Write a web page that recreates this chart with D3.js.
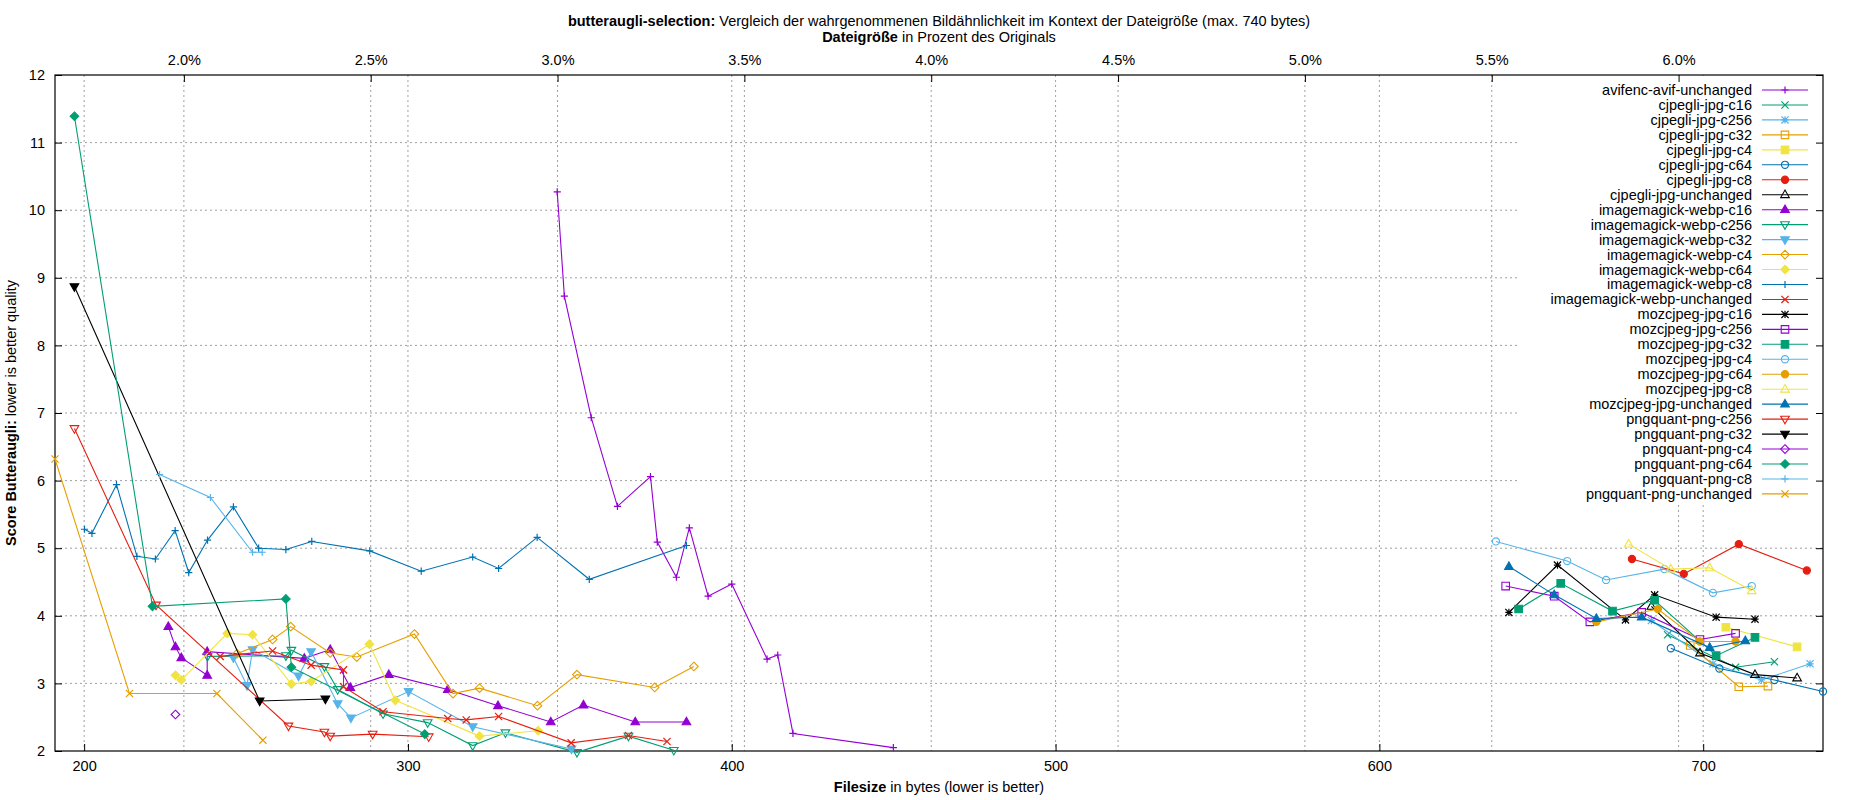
<!DOCTYPE html>
<html><head><meta charset="utf-8">
<script src="https://cdn.jsdelivr.net/npm/d3@7"></script>
<style>body{margin:0;background:#fff}text{font-family:"Liberation Sans",Arial,sans-serif}</style>
</head><body><svg id="c" width="1850" height="800"></svg>
<script>
const originalSize = 11540;
const xTicks = [200,300,400,500,600,700];
const yTicks = [2,3,4,5,6,7,8,9,10,11,12];
const pctTicks = [2.0,2.5,3.0,3.5,4.0,4.5,5.0,5.5,6.0];
const seriesNames = ["avifenc-avif-unchanged","cjpegli-jpg-c16","cjpegli-jpg-c256","cjpegli-jpg-c32","cjpegli-jpg-c4","cjpegli-jpg-c64","cjpegli-jpg-c8","cjpegli-jpg-unchanged","imagemagick-webp-c16","imagemagick-webp-c256","imagemagick-webp-c32","imagemagick-webp-c4","imagemagick-webp-c64","imagemagick-webp-c8","imagemagick-webp-unchanged","mozcjpeg-jpg-c16","mozcjpeg-jpg-c256","mozcjpeg-jpg-c32","mozcjpeg-jpg-c4","mozcjpeg-jpg-c64","mozcjpeg-jpg-c8","mozcjpeg-jpg-unchanged","pngquant-png-c256","pngquant-png-c32","pngquant-png-c4","pngquant-png-c64","pngquant-png-c8","pngquant-png-unchanged"];
const seriesColors = ["#9400d3","#009e73","#56b4e9","#e69f00","#f0e442","#0072b2","#e51e10","#000000"];
const seriesSymbols = ["plus","cross","star","square","fsquare","circle","fcircle","tri","ftri","itri","fitri","diamond","fdiamond"];
const s01 = [[346.1,10.27],[348.3,8.73],[356.6,6.93],[364.7,5.62],[374.9,6.06],[377,5.09],[382.9,4.57],[386.9,5.3],[392.7,4.29],[400,4.47],[410.9,3.36],[414.2,3.42],[418.9,2.26],[449.9,2.05]];
const s02 = [[689,3.72],[710,3.24],[722,3.32]];
const s03 = [[684,3.93],[703,3.29],[718,3.05],[733,3.29]];
const s04 = [[696,3.56],[711,2.95],[720,2.96]];
const s05 = [[707,3.83],[729,3.54]];
const s06 = [[690,3.52],[705,3.22],[722,3.05],[737,2.88]];
const s07 = [[678,4.84],[694,4.62],[711,5.06],[732,4.67]];
const s08 = [[684,4.14],[699,3.45],[716,3.13],[729,3.08]];
const s09 = [[226,3.84],[228.2,3.54],[230,3.38],[238,3.12],[238,3.47],[268,3.37],[276,3.5],[282.2,2.94],[294.1,3.13],[312.3,2.91],[327.8,2.67],[344.1,2.43],[354.2,2.68],[370.2,2.43],[386,2.43]];
const s10 = [[238.1,3.4],[262.3,3.41],[264,3.49],[274.2,3.25],[278.3,2.91],[292.3,2.55],[306.1,2.42],[320,2.08],[330.1,2.27],[352.2,1.98],[368.1,2.22],[382.1,2.01]];
const s11 = [[246.1,3.38],[250.3,2.97],[252,3.5],[266.2,3.11],[270.1,3.47],[278.3,2.7],[282.4,2.49],[300.2,2.88],[320,2.36],[350.5,2.03]];
const s12 = [[247.2,3.44],[258.2,3.65],[263.8,3.84],[276,3.45],[284.2,3.39],[302,3.73],[313.9,2.85],[322.1,2.93],[340,2.67],[352.2,3.13],[376.2,2.94],[388.3,3.25]];
const s13 = [[228.2,3.12],[230,3.05],[244.2,3.74],[252,3.72],[264,2.99],[270.1,3.03],[288.1,3.58],[296.1,2.75],[322.1,2.22],[340.2,2.3]];
const s14 = [[200.1,5.28],[202.4,5.22],[210,5.94],[216.3,4.88],[222,4.84],[228.1,5.26],[232.3,4.64],[238.1,5.12],[246.1,5.61],[253.9,5.0],[262.3,4.98],[270.3,5.1],[288.2,4.96],[304.1,4.66],[320,4.87],[328,4.7],[339.9,5.16],[356,4.54],[386,5.04]];
const s15 = [[242,3.4],[258.2,3.48],[270.1,3.27],[280.1,3.2],[280.1,2.95],[292.3,2.58],[312.3,2.48],[318,2.46],[328,2.51],[350.4,2.12],[368.1,2.23],[380,2.14]];
const s16 = [[640,4.05],[655,4.75],[676,3.94],[685,4.31],[704,3.98],[716,3.95]];
const s17 = [[639,4.44],[654,4.29],[665,3.91],[681,4.05],[699,3.65],[710,3.74]];
const s18 = [[643,4.1],[656,4.48],[672,4.07],[685,4.23],[704,3.41],[716,3.68]];
const s19 = [[636,5.1],[658,4.81],[670,4.53],[688,4.69],[703,4.34],[715,4.44]];
const s20 = [[667,3.91],[686,4.1],[699,3.62],[710,3.62]];
const s21 = [[677,5.06],[690,4.69],[702,4.71],[715,4.37]];
const s22 = [[640,4.73],[654,4.31],[667,3.96],[681,3.98],[702,3.53],[713,3.63]];
const s23 = [[197,6.77],[222.2,4.16],[263.1,2.37],[274.2,2.28],[276,2.22],[289.1,2.25],[306.4,2.21]];
const s24 = [[197,8.87],[254.2,2.74],[274.5,2.77]];
const s25 = [[228.2,2.54]];
const s26 = [[197,11.39],[221.1,4.14],[262.3,4.25],[264,3.24],[305.2,2.25]];
const s27 = [[223.3,6.09],[239,5.75],[252,4.94],[255,4.94]];
const s28 = [[191,6.32],[214,2.85],[241,2.85],[255.2,2.16]];
const allSeries = [s01,s02,s03,s04,s05,s06,s07,s08,s09,s10,s11,s12,s13,s14,s15,s16,s17,s18,s19,s20,s21,s22,s23,s24,s25,s26,s27,s28];

const svg = d3.select("#c");
const L=55,R=1823,T=75,B=751;
const x = d3.scaleLinear().domain([191,737]).range([L,R]);
const y = d3.scaleLinear().domain([2,12]).range([B,T]);
const xp = d3.scaleLinear().domain([191/originalSize*100,737/originalSize*100]).range([L,R]);

const grid = svg.append("g").attr("stroke","#a0a0a0").attr("stroke-dasharray","2,3").attr("stroke-width",1);
yTicks.slice(1,-1).forEach(v=>grid.append("line").attr("x1",L).attr("x2",R).attr("y1",y(v)).attr("y2",y(v)));
xTicks.forEach(v=>grid.append("line").attr("x1",x(v)).attr("x2",x(v)).attr("y1",T).attr("y2",B));
pctTicks.forEach(v=>grid.append("line").attr("x1",xp(v)).attr("x2",xp(v)).attr("y1",T).attr("y2",B));

const legTop=90, legStep=14.96;
svg.append("rect").attr("x",1517).attr("y",T+1).attr("width",R-1518).attr("height",legTop+legStep*27+8-T).attr("fill","#fff");

const fs = "14.5px";
const ax = svg.append("g");
ax.append("g").attr("transform",`translate(0,${B})`).call(d3.axisBottom(x).tickValues(xTicks).tickSize(-7).tickPadding(10).tickFormat(d3.format("d")));
ax.append("g").attr("transform",`translate(0,${T})`).call(d3.axisTop(xp).tickValues(pctTicks).tickSize(-7).tickPadding(10).tickFormat(d=>d3.format(".1f")(d)+"%"));
ax.append("g").attr("transform",`translate(${L},0)`).call(d3.axisLeft(y).tickValues(yTicks).tickSize(-7).tickPadding(10).tickFormat(d3.format("d")));
ax.append("g").attr("transform",`translate(${R},0)`).call(d3.axisRight(y).tickValues(yTicks).tickSize(-7).tickFormat(""));
ax.selectAll(".domain").remove();
ax.selectAll("text").attr("font-size",fs).attr("fill","#000").attr("font-family","Liberation Sans, Arial");
svg.append("rect").attr("x",L).attr("y",T).attr("width",R-L).attr("height",B-T).attr("fill","none").attr("stroke","#000").attr("stroke-width",1.2);

function sym(g,type,cx,cy,col){
  const r=3.6;
  if(type==="plus"){g.append("path").attr("d",`M${cx-r},${cy}H${cx+r}M${cx},${cy-r}V${cy+r}`).attr("stroke",col).attr("stroke-width",1.2);}
  else if(type==="cross"){g.append("path").attr("d",`M${cx-r},${cy-r}L${cx+r},${cy+r}M${cx-r},${cy+r}L${cx+r},${cy-r}`).attr("stroke",col).attr("stroke-width",1.2);}
  else if(type==="star"){g.append("path").attr("d",`M${cx-r},${cy}H${cx+r}M${cx},${cy-r}V${cy+r}M${cx-r},${cy-r}L${cx+r},${cy+r}M${cx-r},${cy+r}L${cx+r},${cy-r}`).attr("stroke",col).attr("stroke-width",1.2);}
  else {
    const fill=type[0]==="f"; const t=fill?type.slice(1):type; let d;
    const s=r*1.05;
    if(t==="square") d=`M${cx-s},${cy-s}H${cx+s}V${cy+s}H${cx-s}Z`;
    else if(t==="circle") d=`M${cx-r},${cy}A${r},${r} 0 1 0 ${cx+r},${cy}A${r},${r} 0 1 0 ${cx-r},${cy}Z`;
    else if(t==="tri") d=`M${cx},${cy-r*1.3}L${cx+r*1.2},${cy+r*0.8}L${cx-r*1.2},${cy+r*0.8}Z`;
    else if(t==="itri") d=`M${cx},${cy+r*1.3}L${cx+r*1.2},${cy-r*0.8}L${cx-r*1.2},${cy-r*0.8}Z`;
    else if(t==="diamond") d=`M${cx},${cy-r*1.2}L${cx+r*1.2},${cy}L${cx},${cy+r*1.2}L${cx-r*1.2},${cy}Z`;
    g.append("path").attr("d",d).attr("fill",fill?col:"none").attr("stroke",col).attr("stroke-width",1.1);
  }
}
const line = d3.line().x(d=>x(d[0])).y(d=>y(d[1]));
const plot = svg.append("g");
allSeries.forEach((data,i)=>{
  const col=seriesColors[i%8], st=seriesSymbols[i%13];
  const g=plot.append("g");
  g.append("path").attr("d",line(data)).attr("fill","none").attr("stroke",col).attr("stroke-width",1.1);
  data.forEach(d=>sym(g,st,x(d[0]),y(d[1]),col));
});
seriesNames.forEach((n,i)=>{
  const col=seriesColors[i%8], st=seriesSymbols[i%13], yy=legTop+i*legStep;
  svg.append("text").attr("x",1752).attr("y",yy+5).attr("text-anchor","end").attr("font-size",fs).text(n);
  svg.append("line").attr("x1",1762).attr("x2",1808).attr("y1",yy).attr("y2",yy).attr("stroke",col).attr("stroke-width",1.1);
  sym(svg.append("g"),st,1785,yy,col);
});
const t1=svg.append("text").attr("x",939).attr("y",26).attr("text-anchor","middle").attr("font-size",fs);
t1.append("tspan").attr("font-weight","bold").text("butteraugli-selection:");
t1.append("tspan").text(" Vergleich der wahrgenommenen Bildähnlichkeit im Kontext der Dateigröße (max. 740 bytes)");
const t2=svg.append("text").attr("x",939).attr("y",42).attr("text-anchor","middle").attr("font-size",fs);
t2.append("tspan").attr("font-weight","bold").text("Dateigröße");
t2.append("tspan").text(" in Prozent des Originals");
const t3=svg.append("text").attr("x",939).attr("y",792).attr("text-anchor","middle").attr("font-size",fs);
t3.append("tspan").attr("font-weight","bold").text("Filesize");
t3.append("tspan").text(" in bytes (lower is better)");
const t4=svg.append("text").attr("transform",`translate(16,${(T+B)/2}) rotate(-90)`).attr("text-anchor","middle").attr("font-size",fs);
t4.append("tspan").attr("font-weight","bold").text("Score Butteraugli:");
t4.append("tspan").text(" lower is better quality");
</script></body></html>
